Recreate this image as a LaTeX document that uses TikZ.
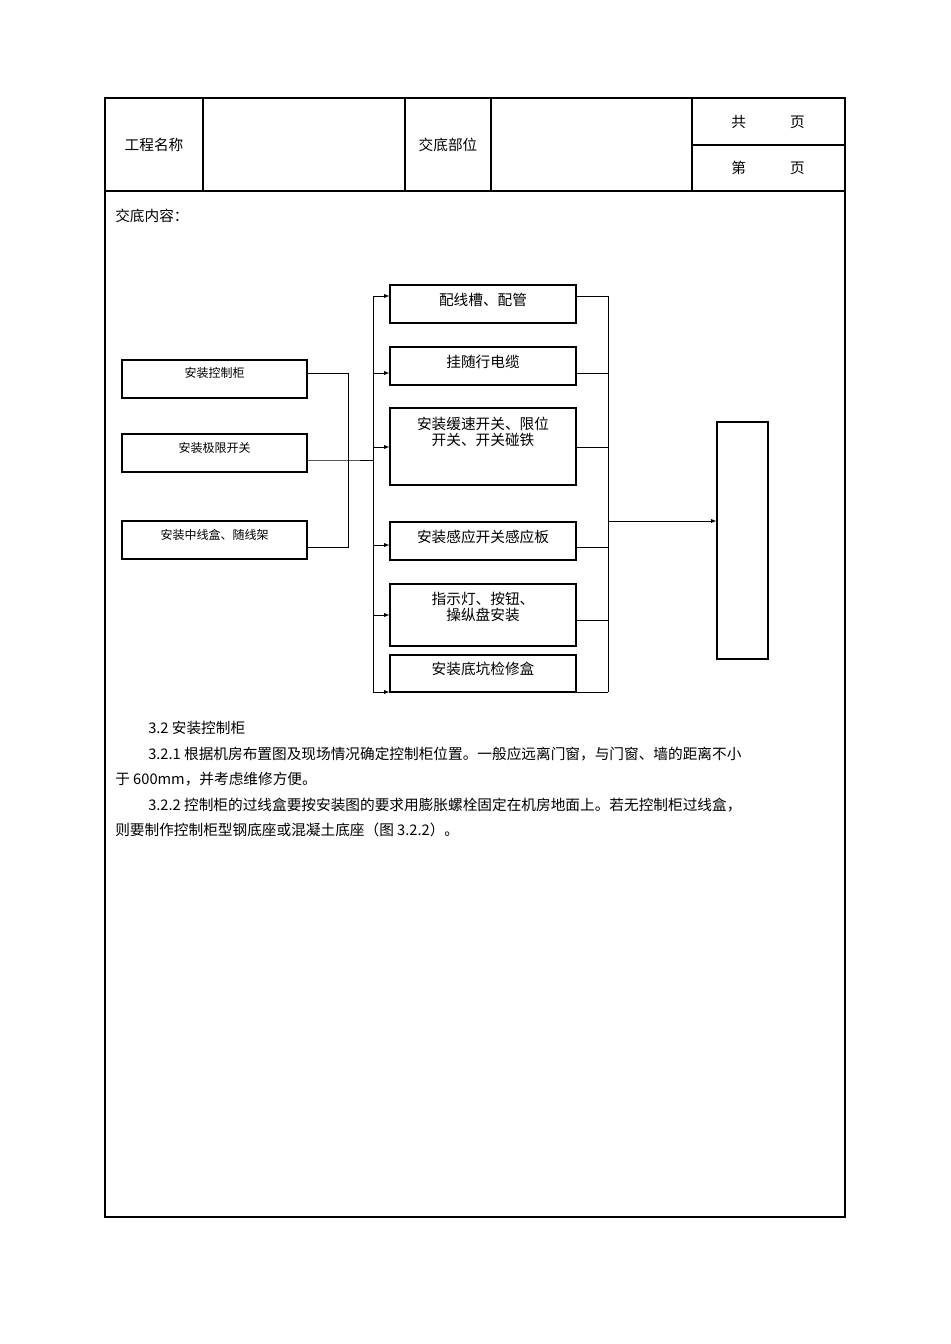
\documentclass[tikz,border=0pt]{standalone}
\usepackage{fontspec}
\setmainfont{Noto Sans CJK SC}
\usetikzlibrary{arrows}
\usetikzlibrary{calc}
\begin{document}
\begin{tikzpicture}[x=0.75pt,y=-0.75pt,>=latex,font=\fontsize{11pt}{13pt}\selectfont]
		\tikzstyle{stepbox}=[rectangle,draw,line width=0.8pt,inner sep=0pt,align=center];
		\tikzstyle{leftbox}=[stepbox,minimum width=138.75pt,minimum height=28.5pt,font=\small];
		\tikzstyle{txt}=[anchor=west,inner sep=0pt];
		\useasboundingbox (0,0) rectangle (950,1344);
		% table frame
		\draw[line width=1pt] (105,98) rectangle (845,1217);
		\draw[line width=0.8pt] (105,191) -- (845,191);
		\foreach \x in {203,405,491,692} \draw[line width=0.8pt] (\x,98) -- (\x,191);
		\draw[line width=0.8pt] (692,145) -- (845,145);
		\node (gc) at (154,145) {工程名称};
		\node (jd) at (448,145) {交底部位};
		\node (gong) at (768,122) {共\hspace{3em}页};
		\node (di) at (768,168) {第\hspace{3em}页};
		\node[txt] (nr) at (115,216) {交底内容：};

		% left column
		\node[leftbox] (a1) at (214.5,379) {};
		\node[font=\small] (a1t) at (214.5,373) {安装控制柜};
		\node[leftbox] (a2) at (214.5,453) {};
		\node[font=\small] (a2t) at (214.5,448) {安装极限开关};
		\node[leftbox] (a3) at (214.5,540) {};
		\node[font=\small] (a3t) at (214.5,535) {安装中线盒、随线架};
		\coordinate (m1) at (348,373);
		\coordinate (m2) at (348,460);
		\coordinate (m3) at (348,547);
		\coordinate (bt) at (373,296);
		\coordinate (bb) at (373,692);
		\coordinate (bm) at (373,460);
		\draw (a1.east|-m1) -- (m1) -- (m3) -- (a3.east|-m3);
		\draw (a2.east|-m2) -- (m2) -- (bm);
		\draw (bt) -- (bb);

		% middle column
		\node[stepbox,minimum width=139.5pt,minimum height=28.5pt] (b1) at (483,304) {};
		\node (b1t) at (483,300) {配线槽、配管};
		\node[stepbox,minimum width=139.5pt,minimum height=28.5pt] (b2) at (483,366) {};
		\node (b2t) at (483,362) {挂随行电缆};
		\node[stepbox,minimum width=139.5pt,minimum height=57.75pt] (b3) at (483,446.5) {};
		\node[inner sep=0pt,align=center,font=\fontsize{11pt}{12pt}\selectfont] (b3t) at (483,432) {安装缓速开关、限位\\开关、开关碰铁};
		\node[stepbox,minimum width=139.5pt,minimum height=28.5pt] (b4) at (483,541) {};
		\node (b4t) at (483,537) {安装感应开关感应板};
		\node[stepbox,minimum width=139.5pt,minimum height=46.5pt] (b5) at (483,615) {};
		\node[inner sep=0pt,align=center,font=\fontsize{11pt}{12pt}\selectfont] (b5t) at (483,607) {指示灯、按钮、\\操纵盘安装};
		\node[stepbox,minimum width=139.5pt,minimum height=27.75pt] (b6) at (483,673.5) {};
		\node (b6t) at (483,669) {安装底坑检修盒};
		\foreach \n/\y in {b1/296,b2/373,b3/447,b4/545,b5/615,b6/692}
			\draw[->] (373,\y) -- (\n.west|-0,\y);
		\foreach \n/\y in {b1/296,b2/373,b3/447,b4/547,b5/620,b6/692}
			\draw (\n.east|-0,\y) -- (608,\y);
		\coordinate (rt) at (608,296);
		\coordinate (rb) at (608,692);
		\coordinate (rm) at (608,521);
		\draw (rt) -- (rb);

		% right box
		\node[stepbox,minimum width=38.25pt,minimum height=177.75pt] (c) at (742.5,540.5) {};
		\draw[->] (rm) -- (c.west|-rm);

		% text
		\node[txt] (t1) at (148,728) {3.2 安装控制柜};
		\node[txt] (t2) at (148,754) {3.2.1 根据机房布置图及现场情况确定控制柜位置。一般应远离门窗，与门窗、墙的距离不小};
		\node[txt] (t3) at (115,779) {于 600mm，并考虑维修方便。};
		\node[txt] (t4) at (148,805) {3.2.2 控制柜的过线盒要按安装图的要求用膨胀螺栓固定在机房地面上。若无控制柜过线盒，};
		\node[txt] (t5) at (115,830) {则要制作控制柜型钢底座或混凝土底座（图 3.2.2）。};
	\end{tikzpicture}
\end{document}
